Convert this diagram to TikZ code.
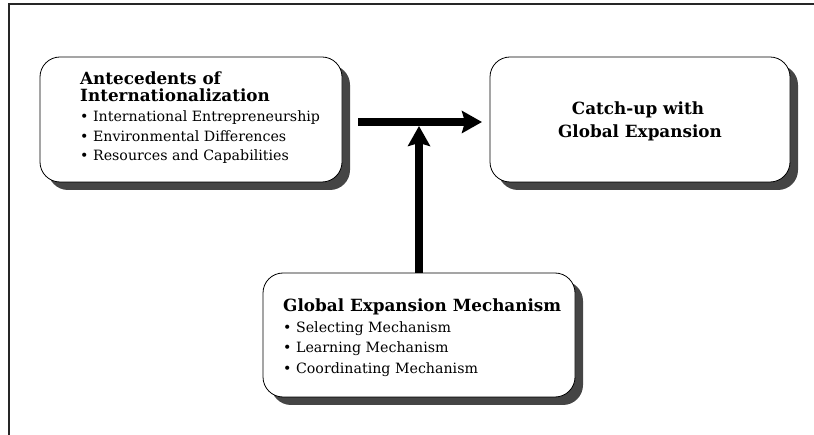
\documentclass[tikz,border=0pt]{standalone}
\usepackage{fontspec}
\setmainfont{DejaVu Serif}
\usetikzlibrary{arrows.meta,shadows}
\definecolor{shadowgray}{HTML}{454545}
\tikzset{
  box/.style={draw=black, line width=0.8pt, fill=white, rounded corners=20pt,
    inner sep=0pt, outer sep=0pt,
    drop shadow={shadow xshift=8pt, shadow yshift=-8pt, fill=shadowgray, opacity=1}},
  btext/.style={inner sep=0pt, font=\fontsize{16.8}{20}\selectfont\bfseries},
  rtext/.style={inner sep=0pt, font=\fontsize{14.2}{20}\selectfont},
  bigarrow/.style={line width=8pt, -{Stealth[length=20pt, width=22pt, inset=3pt]}},
  frame/.style={line width=1.5pt, black!85}
}
\begin{document}
\begin{tikzpicture}[x=1pt,y=-1pt]
\useasboundingbox (0,0) rectangle (814,435);
% frame
\coordinate (fb) at (9,435);
\coordinate (fc) at (9,4);
\coordinate (fr) at (814,4);
\draw[frame] (fb) -- (fc) -- (fr);
% boxes
\node[box, minimum width=302pt, minimum height=125pt] (ante) at (191,119.5) {};
\node[box, minimum width=300pt, minimum height=125pt] (catch) at (640,119.5) {};
\node[box, minimum width=312pt, minimum height=124pt] (mech) at (419,335) {};
% texts box 1
\node[btext, anchor=base west] (a1) at (80,85) {Antecedents of};
\node[btext, anchor=base west] (a2) at (80,102) {Internationalization};
\node[rtext, anchor=base west] (a3) at (80,122) {• International Entrepreneurship};
\node[rtext, anchor=base west] (a4) at (80,142) {• Environmental Differences};
\node[rtext, anchor=base west] (a5) at (80,161) {• Resources and Capabilities};
% texts box 2
\node[btext, anchor=base] (c1) at (638,115) {Catch-up with};
\node[btext, anchor=base] (c2) at (640,138) {Global Expansion};
% texts box 3
\node[btext, anchor=base west] (m1) at (283,312) {Global Expansion Mechanism};
\node[rtext, anchor=base west] (m2) at (283,333) {• Selecting Mechanism};
\node[rtext, anchor=base west] (m3) at (283,353) {• Learning Mechanism};
\node[rtext, anchor=base west] (m4) at (283,374) {• Coordinating Mechanism};
% arrows
\coordinate (hs) at (358,122);
\coordinate (he) at (482,122);
\coordinate (hj) at (419,126);
\draw[bigarrow] (hs) -- (he);
\draw[bigarrow] (mech.north) -- (hj);
\end{tikzpicture}
\end{document}
